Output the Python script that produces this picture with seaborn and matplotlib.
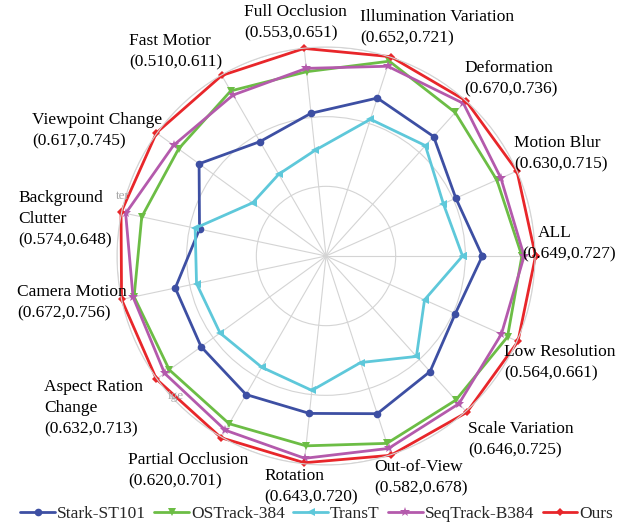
import matplotlib
matplotlib.use("Agg")
import matplotlib.pyplot as plt
import numpy as np
import pandas as pd
import seaborn as sns

# ── data ──────────────────────────────────────────────────────────────────────
categories = [
    "ALL", "Motion Blur", "Deformation", "Illumination Variation",
    "Full Occlusion", "Fast Motior", "Viewpoint Change", "Background Clutter",
    "Camera Motion", "Aspect Ration Change", "Partial Occlusion", "Rotation",
    "Out-of-View", "Scale Variation", "Low Resolution",
]
score_pairs = [
    "(0.649,0.727)", "(0.630,0.715)", "(0.670,0.736)", "(0.652,0.721)",
    "(0.553,0.651)", "(0.510,0.611)", "(0.617,0.745)", "(0.574,0.648)",
    "(0.672,0.756)", "(0.632,0.713)", "(0.620,0.701)", "(0.643,0.720)",
    "(0.582,0.678)", "(0.646,0.725)", "(0.564,0.661)",
]
trackers = ["Stark-ST101", "OSTrack-384", "TransT", "SeqTrack-B384", "Ours"]

stark = [0.561, 0.510, 0.577, 0.596, 0.515, 0.474, 0.563, 0.464,
         0.553, 0.554, 0.574, 0.568, 0.595, 0.558, 0.508]
ostrack = [0.703, 0.671, 0.693, 0.735, 0.665, 0.684, 0.654, 0.676,
           0.704, 0.695, 0.695, 0.685, 0.707, 0.696, 0.713]
transt = [0.490, 0.461, 0.533, 0.516, 0.381, 0.339, 0.325, 0.480,
          0.475, 0.470, 0.461, 0.485, 0.402, 0.485, 0.387]
seqtrack = [0.711, 0.687, 0.737, 0.716, 0.677, 0.667, 0.676, 0.735,
            0.708, 0.716, 0.722, 0.730, 0.726, 0.713, 0.689]
ours = [0.752, 0.750, 0.750, 0.752, 0.749, 0.748, 0.752, 0.752,
        0.750, 0.752, 0.753, 0.746, 0.752, 0.755, 0.754]

series = [stark, ostrack, transt, seqtrack, ours]

# ── style ─────────────────────────────────────────────────────────────────────
colors = ["#3d4fa3", "#6cbd45", "#5ec8da", "#b45aac", "#e8262a"]
markers = ["o", "v", "<", "*", "D"]
msizes = [5.5, 6, 6, 7.5, 4]

sns.set_theme(style="white")
FONT = ["Liberation Serif", "DejaVu Serif"]
plt.rcParams["font.family"] = FONT

W, H = 633, 527
fig = plt.figure(figsize=(W / 100, H / 100), dpi=100)

cx, cy, R = 326, 256, 209
ax = fig.add_axes([(cx - R) / W, 1 - (cy + R) / H, 2 * R / W, 2 * R / H],
                  projection="polar")

n = len(categories)
theta = np.arange(n) * 2 * np.pi / n

for name, vals, c, m, ms in zip(trackers, series, colors, markers, msizes):
    df = pd.DataFrame({"theta": np.append(theta, 2 * np.pi),
                       "value": vals + vals[:1]})
    sns.lineplot(data=df, x="theta", y="value", ax=ax, sort=False,
                 estimator=None, color=c, marker=m, markersize=ms,
                 markeredgewidth=0, linewidth=2.0, label=name, clip_on=False)

ax.set_ylim(0, 0.75)
ax.set_xticks(theta)
ax.set_xticklabels([])
ax.set_yticks([0.25, 0.5, 0.75])
ax.set_yticklabels([])
ax.set_xlabel("")
ax.set_ylabel("")
ax.grid(True, color="#d4d4d4", linewidth=0.8)
ax.spines["polar"].set_color("#d4d4d4")
ax.spines["polar"].set_linewidth(0.8)

handles, labels = ax.get_legend_handles_labels()
ax.get_legend().remove()

# ── axis labels (first-line center in pixels) ────────────────────────────────
label_pos = {
    "ALL": (522, 233),
    "Motion Blur": (514, 143),
    "Deformation": (464, 68),
    "Illumination Variation": (360, 17),
    "Full Occlusion": (244, 12),
    "Fast Motior": (129, 41),
    "Viewpoint Change": (32, 120),
    "Background Clutter": (18, 198),
    "Camera Motion": (17, 292),
    "Aspect Ration Change": (44, 387),
    "Partial Occlusion": (128, 460),
    "Rotation": (264, 476),
    "Out-of-View": (374, 467),
    "Scale Variation": (468, 429),
    "Low Resolution": (504, 352),
}
wrapped = {"Background Clutter": ["Background", "Clutter"],
           "Aspect Ration Change": ["Aspect Ration", "Change"]}
first_dx = {"ALL": 16}

for cat, pair in zip(categories, score_pairs):
    x0, y0 = label_pos[cat]
    lines = wrapped.get(cat, [cat]) + [pair]
    for i, s in enumerate(lines):
        dx = first_dx.get(cat, 0) if i == 0 else 0
        fig.text((x0 + dx) / W, 1 - (y0 + 21 * i) / H, s, ha="left",
                 va="center", fontsize=12.5, family=FONT, color="black")

# faint leftovers of hidden labels
fig.text(116 / W, 1 - 196 / H, "ter", fontsize=9.5, color="#a8a8a8",
         family=FONT, va="center", ha="left")
fig.text(168 / W, 1 - 396 / H, "ige", fontsize=9.5, color="#a8a8a8",
         family=FONT, va="center", ha="left")

fig.legend(handles, labels, loc="center", bbox_to_anchor=(0.5, 1 - 514 / H),
           ncol=5, frameon=False, handlelength=2.0,
           handletextpad=0.1, columnspacing=0.5, borderaxespad=0,
           prop={"family": FONT, "size": 12.5})

fig.savefig("out.png", dpi=100)
